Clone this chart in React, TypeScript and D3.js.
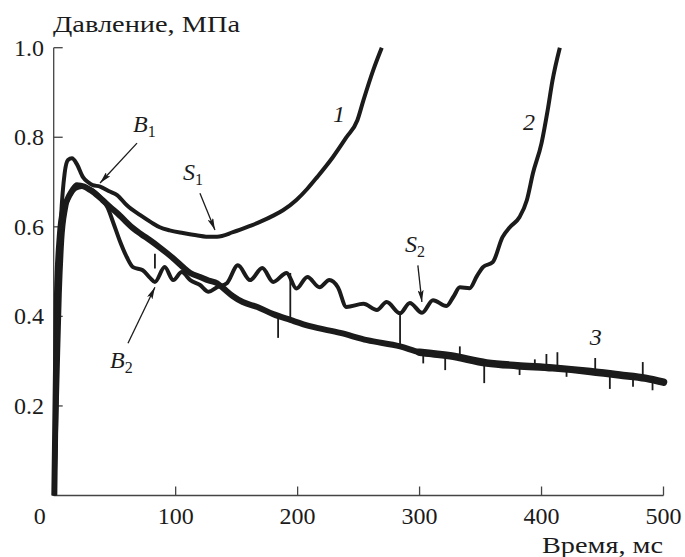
import React from "react";
import * as d3 from "d3";

// ---------- data (time, ms / pressure, MPa) ----------
const curve1T = [0.5, 2, 3.5, 6, 9, 11.7, 15, 19, 24, 28, 32, 38, 45, 52, 60, 71, 80, 87, 95, 106, 117, 125, 134, 147, 161, 170, 180, 188, 199, 208, 216, 229, 240, 249, 254, 262, 269];
const curve1P = [0, 0.2, 0.45, 0.62, 0.72, 0.749, 0.753, 0.74, 0.711, 0.70, 0.693, 0.69, 0.68, 0.671, 0.648, 0.626, 0.61, 0.599, 0.592, 0.586, 0.581, 0.578, 0.578, 0.588, 0.602, 0.612, 0.625, 0.637, 0.66, 0.685, 0.711, 0.756, 0.8, 0.838, 0.883, 0.95, 1.0];

const curve2T = [0.5, 3, 5, 7, 10, 13, 18, 23, 30, 35, 40, 44, 49, 54, 60, 65, 73, 79, 83, 91, 98, 105, 112, 120, 127, 134, 142, 151, 161, 171, 180, 191, 199, 208, 218, 226, 233, 240, 254, 265, 273, 284, 292, 302, 311, 322, 328, 333, 341, 347, 352, 360, 368, 374, 382, 388, 393, 400, 405, 409, 415];
const curve2P = [0, 0.25, 0.45, 0.57, 0.64, 0.67, 0.685, 0.689, 0.685, 0.675, 0.66, 0.644, 0.608, 0.57, 0.532, 0.51, 0.503, 0.486, 0.477, 0.51, 0.481, 0.499, 0.481, 0.47, 0.455, 0.465, 0.474, 0.514, 0.481, 0.508, 0.477, 0.497, 0.462, 0.488, 0.465, 0.481, 0.465, 0.421, 0.428, 0.414, 0.432, 0.407, 0.43, 0.408, 0.436, 0.423, 0.445, 0.465, 0.463, 0.49, 0.51, 0.521, 0.577, 0.599, 0.622, 0.66, 0.72, 0.787, 0.86, 0.927, 1.0];

const curve3T = [0.5, 2.7, 5, 8, 11, 15, 19, 25, 30, 35, 40, 46, 52, 58, 65, 72, 79, 86, 93, 100, 106, 112, 120, 127, 134, 139, 147, 155, 167, 180, 194, 210, 235, 257, 284, 300, 325, 355, 380, 409, 440, 464, 485, 500];
const curve3P = [0, 0.45, 0.58, 0.64, 0.66, 0.68, 0.693, 0.69, 0.682, 0.672, 0.66, 0.645, 0.631, 0.615, 0.597, 0.583, 0.57, 0.556, 0.541, 0.525, 0.51, 0.497, 0.488, 0.48, 0.474, 0.463, 0.445, 0.432, 0.421, 0.405, 0.392, 0.378, 0.363, 0.347, 0.333, 0.32, 0.312, 0.296, 0.29, 0.285, 0.277, 0.269, 0.262, 0.253];

// spikes: time, from pressure, to pressure
const spikeT = [83, 184, 194, 284, 303, 321, 333, 353, 382, 394.5, 404, 413, 420.5, 444, 456, 475, 483, 491];
const spikeFrom = [0.54, 0.395, 0.497, 0.407, 0.319, 0.313, 0.307, 0.297, 0.29, 0.288, 0.286, 0.284, 0.283, 0.276, 0.27, 0.266, 0.26, 0.259];
const spikeTo = [0.507, 0.352, 0.395, 0.33, 0.295, 0.28, 0.333, 0.251, 0.269, 0.304, 0.316, 0.32, 0.265, 0.307, 0.238, 0.243, 0.298, 0.235];

const xTicks = [100, 200, 300, 400, 500];
const yTicks = [0.2, 0.4, 0.6, 0.8, 1.0];

// annotations in data units
const arrowFromT = [68.3, 119.9, 60.9, 298.6];
const arrowFromP = [0.787, 0.675, 0.34, 0.514];
const arrowToT = [38, 132.2, 83, 301.9];
const arrowToP = [0.698, 0.593, 0.465, 0.432];

const letterNames = ["B", "S", "B", "S"];
const letterSubs = ["1", "1", "2", "2"];
const letterT = [65, 106, 46.2, 288];
const letterP = [0.811, 0.704, 0.285, 0.543];

const curveNames = ["1", "2", "3"];
const curveNameT = [229, 384.7, 439.6];
const curveNameP = [0.834, 0.816, 0.336];

const W = 685;
const H = 557;
const FONT = "Liberation Serif, Times New Roman, serif";
const INK = "#1b1b1b";
const tf = { fontFamily: FONT };

export default function App() {
  const x = d3.scaleLinear().domain([0, 500]).range([53.7, 663.5]);
  const y = d3.scaleLinear().domain([0, 1]).range([495.5, 47.7]);

  const line = d3
    .line<[number, number]>()
    .x((d) => x(d[0]))
    .y((d) => y(d[1]))
    .curve(d3.curveMonotoneX);

  const zip = (t: number[], p: number[]) => t.map((v, i) => [v, p[i]] as [number, number]);
  const c3 = zip(curve3T, curve3P);
  const c3late = c3.filter((d) => d[0] >= 300);

  return (
    <svg width={W} height={H} viewBox={`0 0 ${W} ${H}`} style={{ position: "absolute", left: 0, top: 0, background: "#fff" }}>
      <defs>
        <marker id="ah" viewBox="0 0 12 6" refX="12" refY="3" markerWidth="12" markerHeight="6" markerUnits="userSpaceOnUse" orient="auto">
          <path d="M0,0 L12,3 L0,6 L2.5,3 Z" fill={INK} />
        </marker>
      </defs>

      {/* axes */}
      <line x1={x(0)} x2={x(0)} y1={y(0)} y2={y(1)} stroke="#444" strokeWidth={1.3} />
      <line x1={x(0)} x2={x(500)} y1={y(0)} y2={y(0)} stroke="#444" strokeWidth={1.3} />
      {xTicks.map((t) => (
        <g key={"xt" + t}>
          <line x1={x(t)} x2={x(t)} y1={y(0)} y2={y(0) - 9} stroke="#444" strokeWidth={1.3} />
          <text x={x(t)} y={y(0) + 28.5} textAnchor="middle" fontSize={24} fill={INK} style={tf}>
            {t}
          </text>
        </g>
      ))}
      <text x={x(0) - 14} y={y(0) + 28.5} textAnchor="middle" fontSize={24} fill={INK} style={tf}>
        0
      </text>
      {yTicks.map((p) => (
        <g key={"yt" + p}>
          <line x1={x(0)} x2={x(0) + 9} y1={y(p)} y2={y(p)} stroke="#444" strokeWidth={1.3} />
          <text x={44} y={y(p) + 8} textAnchor="end" fontSize={24} fill={INK} style={tf}>
            {p.toFixed(1)}
          </text>
        </g>
      ))}
      <text x={53} y={32} fontSize={24} fill={INK} style={tf} textLength={187} lengthAdjust="spacingAndGlyphs">
        Давление, МПа
      </text>
      <text x={542} y={553} fontSize={24} fill={INK} style={tf} textLength={121} lengthAdjust="spacingAndGlyphs">
        Время, мс
      </text>

      {/* curves */}
      <path d={line(c3) || ""} fill="none" stroke={INK} strokeWidth={6} strokeLinejoin="round" />
      <path d={line(c3late) || ""} fill="none" stroke={INK} strokeWidth={7.5} strokeLinejoin="round" strokeLinecap="round" />
      <path d={line(zip(curve2T, curve2P)) || ""} fill="none" stroke={INK} strokeWidth={4} strokeLinejoin="round" />
      <path d={line(zip(curve1T, curve1P)) || ""} fill="none" stroke={INK} strokeWidth={4} strokeLinejoin="round" />
      {spikeT.map((t, i) => (
        <line key={"sp" + i} x1={x(t)} x2={x(t)} y1={y(spikeFrom[i])} y2={y(spikeTo[i])} stroke={INK} strokeWidth={1.8} />
      ))}

      {/* arrows */}
      {arrowFromT.map((t, i) => (
        <line
          key={"ar" + i}
          x1={x(t)}
          y1={y(arrowFromP[i])}
          x2={x(arrowToT[i])}
          y2={y(arrowToP[i])}
          stroke={INK}
          strokeWidth={1.3}
          markerEnd="url(#ah)"
        />
      ))}

      {/* letter labels */}
      {letterNames.map((n, i) => (
        <text key={"lb" + i} x={x(letterT[i])} y={y(letterP[i])} fontSize={24} fill={INK} style={tf}>
          <tspan fontStyle="italic">{n}</tspan>
          <tspan fontSize={16} dy={5}>
            {letterSubs[i]}
          </tspan>
        </text>
      ))}
      {curveNames.map((n, i) => (
        <text key={"cn" + i} x={x(curveNameT[i])} y={y(curveNameP[i])} fontSize={24} fontStyle="italic" fill={INK} style={tf}>
          {n}
        </text>
      ))}
    </svg>
  );
}
